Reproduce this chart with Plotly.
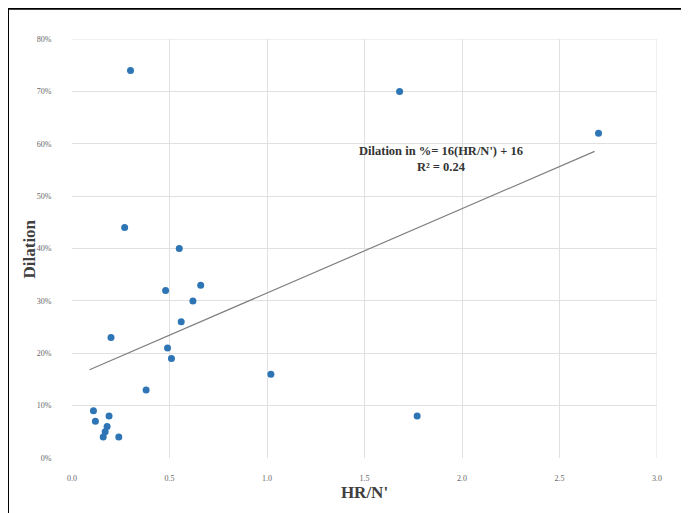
import plotly.graph_objects as go

hr_n = [0.30, 1.68, 2.70, 0.27, 0.55, 0.48, 0.66, 0.62, 0.56, 0.20, 0.49, 0.51,
        1.02, 0.38, 0.11, 0.12, 0.19, 0.18, 0.17, 0.16, 0.24, 1.77]
dilation = [74, 70, 62, 44, 40, 32, 33, 30, 26, 23, 21, 19,
            16, 13, 9, 7, 8, 6, 5, 4, 4, 8]

trend_slope = 16.1
trend_intercept = 15.4
trend_x = [0.09, 2.68]
trend_y = [trend_slope * v + trend_intercept for v in trend_x]

x_ticks = [0.0, 0.5, 1.0, 1.5, 2.0, 2.5, 3.0]
y_ticks = [0, 10, 20, 30, 40, 50, 60, 70, 80]

fig = go.Figure()
fig.add_trace(go.Scatter(x=trend_x, y=trend_y, mode="lines",
                         line=dict(color="#7f7f7f", width=1.2), showlegend=False))
fig.add_trace(go.Scatter(x=hr_n, y=dilation, mode="markers",
                         marker=dict(color="#2e75b6", size=7), showlegend=False))

fig.add_annotation(x=1.89, y=57.0, xref="x", yref="y",
                   text="<b>Dilation in %= 16(HR/N') + 16</b><br><b>R² = 0.24</b>",
                   showarrow=False, align="center",
                   font=dict(family="Liberation Serif", size=12.5, color="#333333"))

fig.add_annotation(x=-0.0718, y=0.50, xref="paper", yref="paper",
                   text="<b>Dilation</b>", textangle=-90, showarrow=False,
                   xanchor="center", yanchor="middle",
                   font=dict(family="Liberation Serif", size=17, color="#404040"))

fig.update_layout(
    width=689, height=513,
    margin=dict(l=64, r=40, t=31, b=63),
    paper_bgcolor="white", plot_bgcolor="white",
    font=dict(family="Liberation Serif", color="#595959"),
    xaxis=dict(range=[0, 3.0], tickvals=x_ticks,
               ticktext=[f"{v:.1f}" for v in x_ticks],
               showgrid=True, gridcolor="#e0e0e0", gridwidth=1,
               zeroline=False, showline=False,
               ticks="outside", ticklen=12, tickcolor="rgba(0,0,0,0)",
               tickfont=dict(size=8, color="#666666"),
               title=dict(text="<b>HR/N'</b>", font=dict(size=17, color="#404040"), standoff=4)),
    yaxis=dict(range=[0, 80], tickvals=y_ticks,
               ticktext=[f"{v}%" for v in y_ticks],
               showgrid=True, gridcolor="#e0e0e0", gridwidth=1,
               zeroline=False, showline=False,
               ticks="outside", ticklen=18, tickcolor="rgba(0,0,0,0)",
               tickfont=dict(size=8, color="#666666")),
    shapes=[
        dict(type="line", xref="paper", yref="paper", x0=-0.1094, x1=1.2, y0=1.072, y1=1.072,
             line=dict(color="black", width=2)),
        dict(type="line", xref="paper", yref="paper", x0=-0.1094, x1=-0.1094, y0=1.072, y1=-0.2,
             line=dict(color="black", width=2)),
        dict(type="line", xref="x", yref="paper", x0=3.0, x1=3.0, y0=0, y1=1,
             line=dict(color="#e0e0e0", width=1)),
        dict(type="line", xref="paper", yref="y", x0=0, x1=1, y0=80, y1=80,
             line=dict(color="#e0e0e0", width=1)),
    ],
)

fig.write_html("out.html")
